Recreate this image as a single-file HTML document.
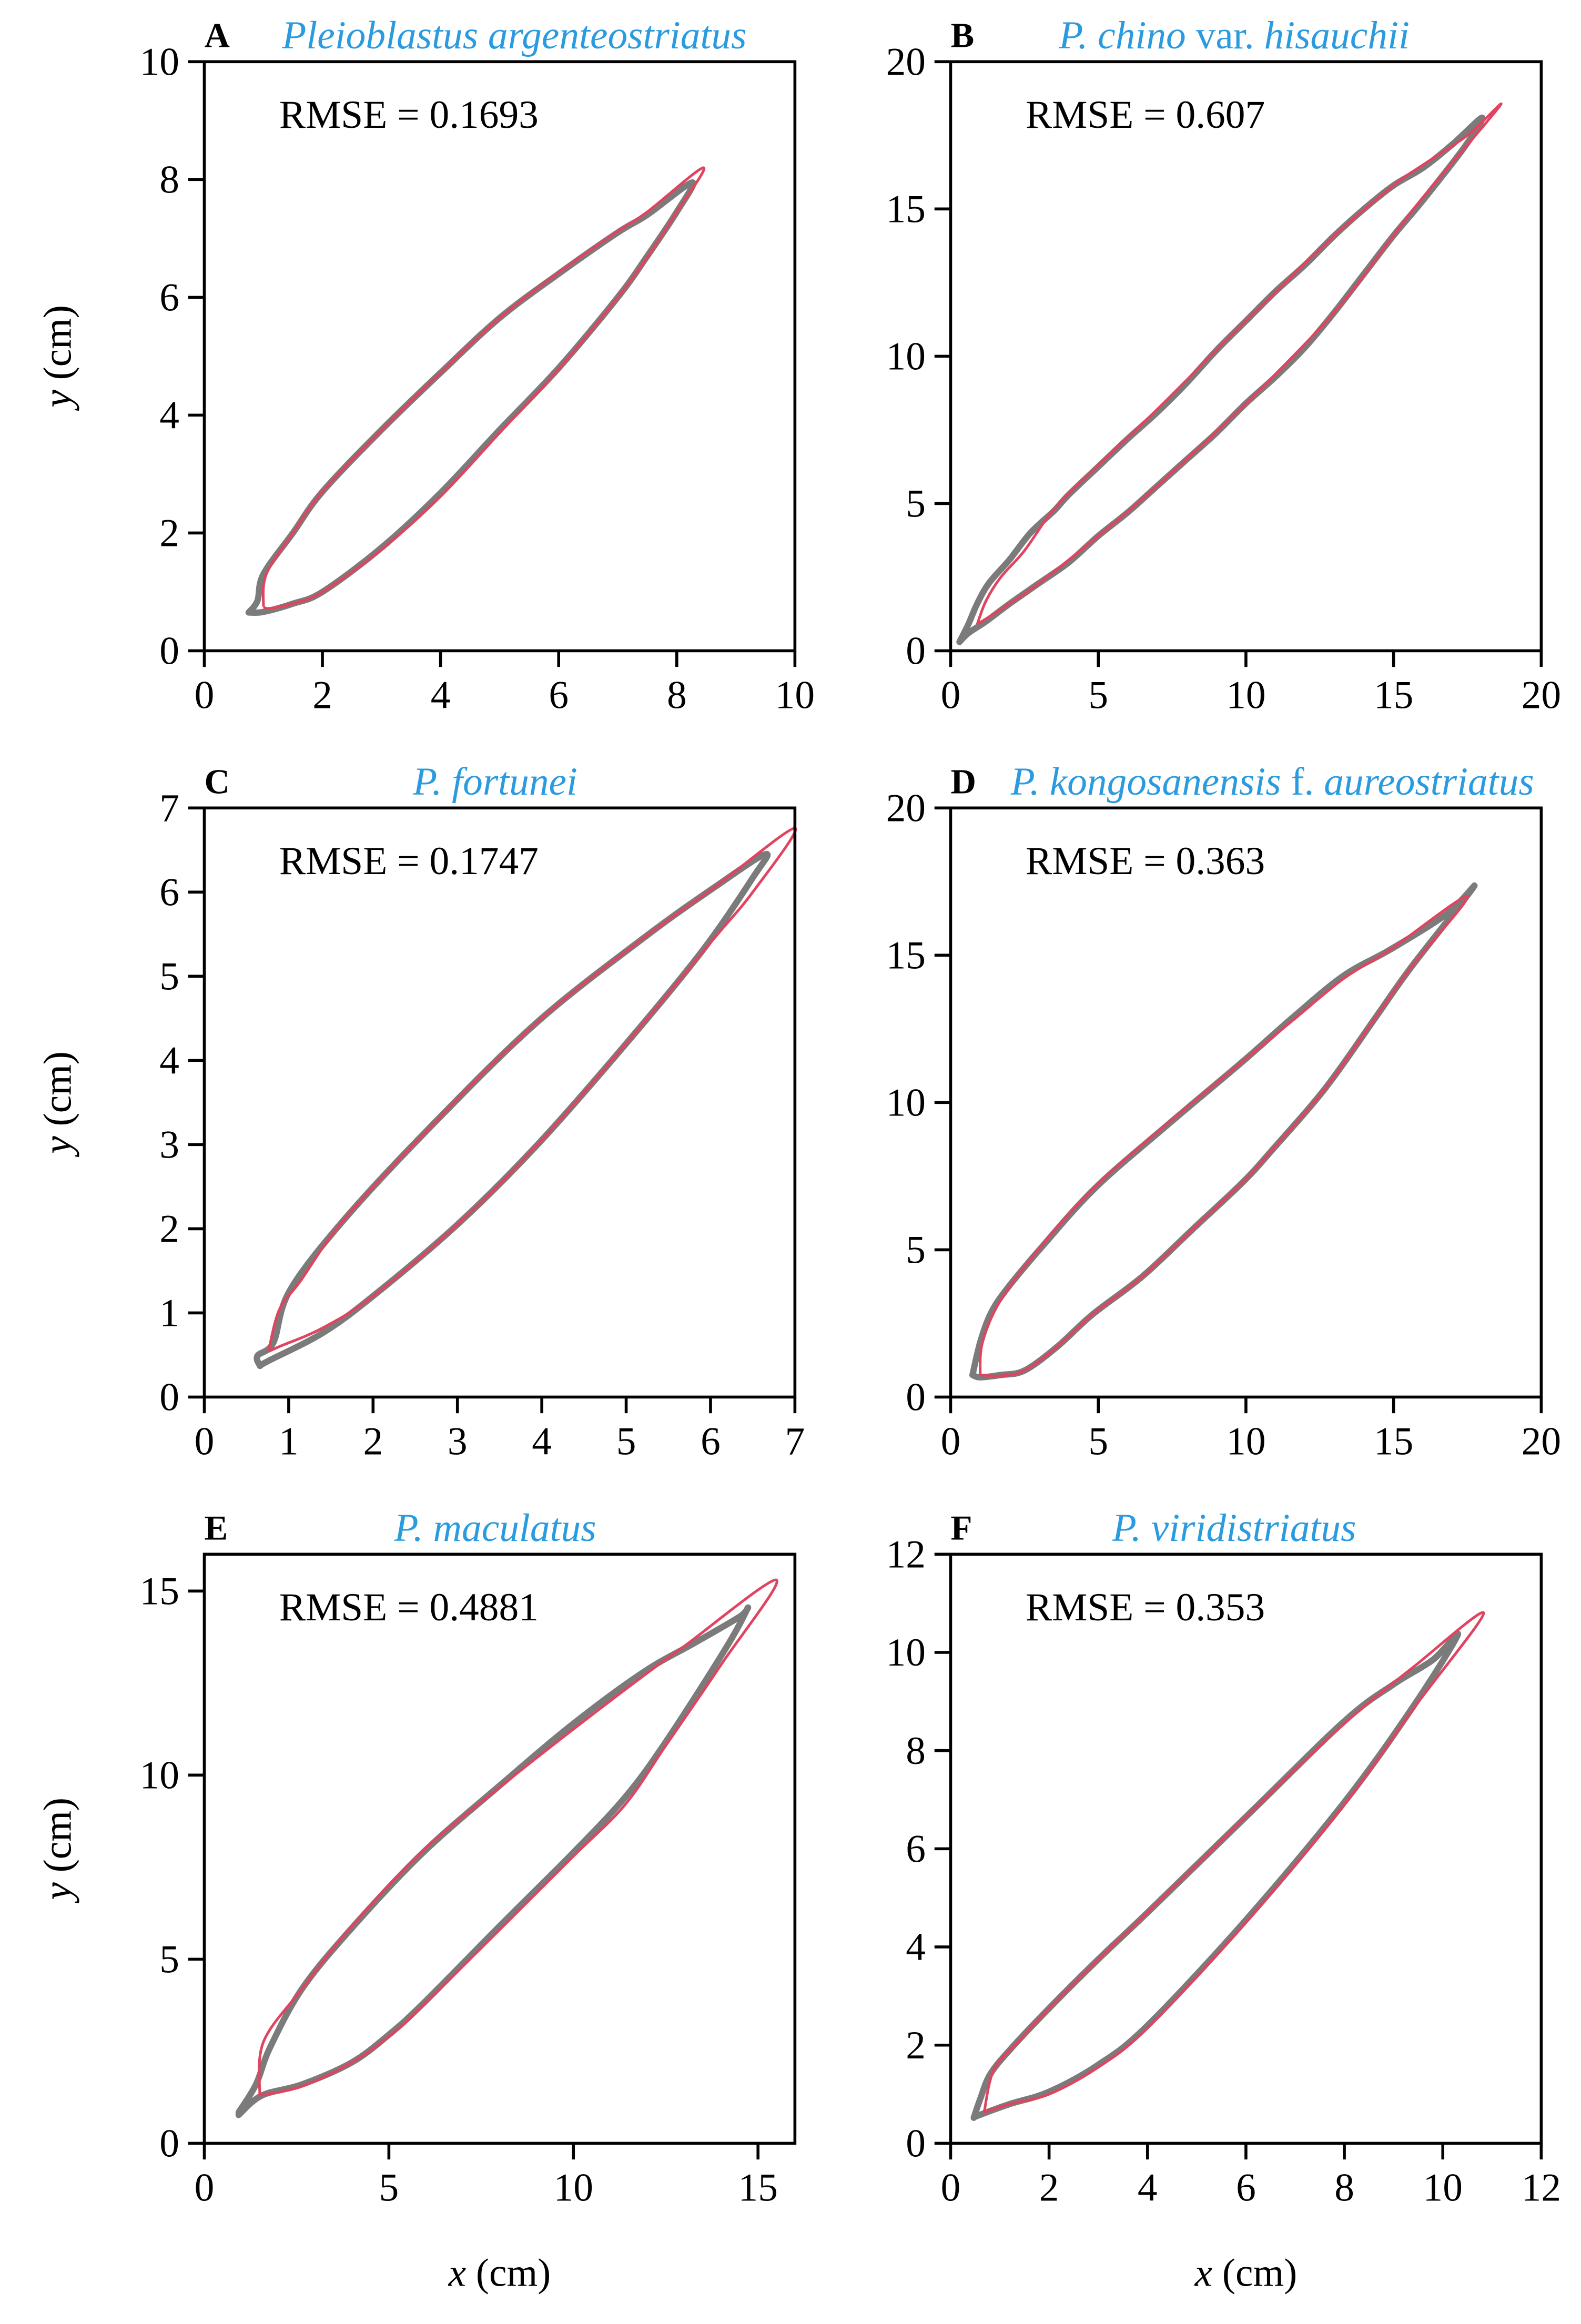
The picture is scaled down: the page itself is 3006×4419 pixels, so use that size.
<!DOCTYPE html>
<html><head><meta charset="utf-8"><style>
html,body{margin:0;padding:0;background:#fff;}
svg{display:block;}
text{font-family:"Liberation Serif","Times New Roman",serif;}
</style></head><body>
<svg id="fig" width="3006" height="4419" viewBox="0 0 1076 1582" xmlns="http://www.w3.org/2000/svg"></svg>
<script>
// ---- data (data units) ----
const panelLetters = ["A","B","C","D","E","F"];
const panelTitles = [
  [["Pleioblastus argenteostriatus",true]],
  [["P. chino",true],[" var. ",false],["hisauchii",true]],
  [["P. fortunei",true]],
  [["P. kongosanensis",true],[" f. ",false],["aureostriatus",true]],
  [["P. maculatus",true]],
  [["P. viridistriatus",true]]
];
const titleCenters = [350,840,337,866,337,840];
const rmseLabels = ["RMSE = 0.1693","RMSE = 0.607","RMSE = 0.1747","RMSE = 0.363","RMSE = 0.4881","RMSE = 0.353"];
const xMax = [10,20,7,20,16,12];
const yMax = [10,20,7,20,16,12];
const xTicks = [[0,2,4,6,8,10],[0,5,10,15,20],[0,1,2,3,4,5,6,7],[0,5,10,15,20],[0,5,10,15],[0,2,4,6,8,10,12]];
const yTicks = [[0,2,4,6,8,10],[0,5,10,15,20],[0,1,2,3,4,5,6,7],[0,5,10,15,20],[0,5,10,15],[0,2,4,6,8,10,12]];

const obsA = [[0.75,0.65],[0.9,0.85],[1.0,1.3],[1.5,2.0],[2,2.7],[3,3.75],[4,4.72],[5,5.65],[6,6.4],[7,7.1],[7.5,7.4],[8.26,7.95],[8.0,7.45],[7.5,6.7],[7,6.0],[6,4.8],[5,3.75],[4,2.68],[3,1.75],[2,1.0],[1.5,0.8],[1.0,0.66],[0.75,0.65]];
const fitA = [[1.0,0.75],[1.05,1.3],[1.5,2.0],[2,2.7],[3,3.75],[4,4.72],[5,5.65],[6,6.42],[7,7.12],[7.5,7.45],[8.45,8.2],[8.0,7.45],[7.5,6.68],[7,6.0],[6,4.78],[5,3.7],[4,2.62],[3,1.72],[2,1.0],[1.5,0.8],[1.1,0.72],[1.0,0.75]];
const obsB = [[0.3,0.3],[0.6,0.9],[0.9,1.6],[1.3,2.3],[2,3.1],[2.7,4.0],[3.5,4.75],[4,5.3],[5,6.25],[6,7.2],[7,8.1],[8,9.1],[9,10.2],[10,11.2],[11,12.2],[12,13.1],[13,14.1],[14,15.0],[15,15.8],[16,16.4],[17,17.2],[18,18.1],[17.4,17.1],[16,15.3],[15,14.1],[14,12.8],[13,11.5],[12,10.3],[11,9.3],[10,8.4],[9,7.4],[8,6.5],[7,5.6],[6,4.7],[5,3.9],[4,3.0],[3,2.3],[2,1.6],[1.2,1.0],[0.6,0.6],[0.3,0.3]];
const fitB = [[0.9,0.9],[1.2,1.7],[1.7,2.5],[2.5,3.4],[3.5,4.8],[5,6.3],[7,8.2],[10,11.2],[13,14.1],[15,15.8],[16,16.5],[17.5,17.5],[18.6,18.5],[16,15.4],[15,14.1],[13,11.5],[10,8.4],[7,5.6],[5,3.9],[3,2.3],[2,1.6],[1.3,1.15],[0.9,0.9]];
const obsC = [[0.66,0.37],[0.63,0.49],[0.82,0.65],[1.01,1.26],[1.65,2.1],[2.67,3.2],[3.94,4.45],[5.2,5.45],[6.05,6.06],[6.65,6.45],[6.5,6.17],[5.9,5.3],[5.0,4.2],[3.95,3.0],[3.0,2.05],[2.0,1.2],[1.4,0.76],[0.76,0.43],[0.66,0.37]];
const fitC = [[0.76,0.54],[0.89,1.04],[1.14,1.38],[1.65,2.1],[2.67,3.2],[3.94,4.45],[5.2,5.45],[6.05,6.06],[7.0,6.76],[6.5,6.0],[6.0,5.4],[5.0,4.2],[3.95,3.0],[3.0,2.05],[2.0,1.2],[1.4,0.82],[0.89,0.6],[0.76,0.54]];
const obsD = [[0.74,0.75],[1.0,1.86],[1.34,2.8],[1.85,3.6],[3.05,5.05],[4.9,7.1],[7.3,9.2],[9.9,11.4],[11.6,12.9],[13.3,14.3],[14.9,15.2],[16.8,16.4],[17.7,17.3],[15.6,14.6],[14.4,12.9],[12.7,10.5],[10.9,8.4],[9.9,7.3],[8.2,5.7],[6.5,4.1],[4.8,2.8],[3.6,1.7],[2.5,0.9],[1.7,0.75],[1.0,0.67],[0.74,0.75]];
const fitD = [[1.0,0.75],[1.08,1.86],[1.7,3.3],[3.05,5.1],[4.9,7.15],[7.3,9.25],[9.9,11.4],[11.6,12.8],[13.3,14.2],[14.9,15.2],[17.5,17.0],[15.6,14.6],[14.4,12.9],[12.7,10.5],[10.9,8.4],[9.9,7.3],[8.2,5.7],[6.5,4.1],[4.8,2.8],[3.6,1.7],[2.5,0.9],[1.7,0.72],[1.0,0.75]];
const obsE = [[0.93,0.84],[1.4,1.6],[1.78,2.6],[2.65,4.2],[4.0,5.85],[5.93,7.9],[8.1,9.8],[10.0,11.4],[11.9,12.8],[13.3,13.6],[14.5,14.3],[14.7,14.5],[14.1,13.4],[12.5,10.9],[11.4,9.4],[10,7.9],[8.1,6.0],[5.93,3.8],[5,2.95],[4.0,2.2],[2.65,1.6],[1.56,1.3],[0.93,0.77]];
const fitE = [[1.5,1.3],[1.6,2.75],[2.65,4.2],[4.0,5.9],[5.93,7.95],[8.1,9.75],[10.0,11.25],[11.9,12.7],[13.0,13.5],[15.5,15.3],[14.0,13.0],[12.5,10.8],[11.4,9.2],[10,7.8],[8.1,5.9],[5.93,3.75],[5,2.9],[4.0,2.2],[2.65,1.55],[1.5,1.3]];
const obsF = [[0.47,0.52],[0.6,0.9],[0.8,1.4],[1.2,1.9],[2,2.75],[3,3.75],[4,4.7],[6,6.65],[8,8.6],[9.0,9.35],[9.8,9.85],[10.3,10.35],[9.4,8.9],[8,6.95],[6,4.55],[4,2.4],[3,1.6],[2,1.05],[1.2,0.8],[0.57,0.57],[0.47,0.52]];
const fitF = [[0.68,0.63],[0.88,1.5],[1.4,2.1],[2,2.75],[3,3.75],[4,4.7],[6,6.65],[8,8.55],[9.4,9.7],[10.83,10.8],[9.4,8.85],[8,6.9],[6,4.5],[4,2.35],[3,1.55],[2,1.0],[1.2,0.8],[0.68,0.63]];
const observed = [obsA,obsB,obsC,obsD,obsE,obsF];
const fitted = [fitA,fitB,fitC,fitD,fitE,fitF];

const NS="http://www.w3.org/2000/svg";
const svg=document.getElementById('fig');
const colL=[139,647], rowT=[42,550,1058], W=402, H=401;
function mk(tag,attrs,parent){const e=document.createElementNS(NS,tag);for(const k in attrs)e.setAttribute(k,attrs[k]);(parent||svg).appendChild(e);return e;}
function smooth(pts){
  let d="M"+pts[0][0].toFixed(2)+","+pts[0][1].toFixed(2);
  for(let i=0;i<pts.length-1;i++){
    const p0=pts[Math.max(0,i-1)],p1=pts[i],p2=pts[i+1],p3=pts[Math.min(pts.length-1,i+2)];
    const c1=[p1[0]+(p2[0]-p0[0])/6,p1[1]+(p2[1]-p0[1])/6];
    const c2=[p2[0]-(p3[0]-p1[0])/6,p2[1]-(p3[1]-p1[1])/6];
    d+="C"+c1[0].toFixed(2)+","+c1[1].toFixed(2)+" "+c2[0].toFixed(2)+","+c2[1].toFixed(2)+" "+p2[0].toFixed(2)+","+p2[1].toFixed(2);
  }
  return d;
}
for(let p=0;p<6;p++){
  const L=colL[p%2], T=rowT[Math.floor(p/2)];
  const sx=v=>L+v/xMax[p]*W, sy=v=>T+H-v/yMax[p]*H;
  const g=mk('g',{});
  
  
  xTicks[p].forEach(v=>{
    const t=mk('line',{x1:sx(v),x2:sx(v),y1:T+H,y2:T+H+11,stroke:'#000','stroke-width':2},g);
    
    
    const lb=mk('text',{x:sx(v),y:T+H+39,'text-anchor':'middle','font-size':27},g);
    lb.textContent=v;
    
    
  });
  yTicks[p].forEach(v=>{
    const t=mk('line',{x1:L-11,x2:L,y1:sy(v),y2:sy(v),stroke:'#000','stroke-width':2},g);
    
    
    const lb=mk('text',{x:L-17,y:sy(v)+9,'text-anchor':'end','font-size':27},g);
    lb.textContent=v;
    
    
  });
  const op=mk('path',{d:smooth(observed[p].map(q=>[sx(q[0]),sy(q[1])])),fill:'none',stroke:'#7b7b7b','stroke-width':4.3,'stroke-linejoin':'round','stroke-linecap':'round'},g);
  
  
  const fp=mk('path',{d:smooth(fitted[p].map(q=>[sx(q[0]),sy(q[1])])),fill:'none',stroke:'#e0445f','stroke-width':1.8,'stroke-linejoin':'round'},g);
  
  
  const fr=mk('rect',{x:L,y:T,width:W,height:H,fill:'none',stroke:'#000','stroke-width':2},g);
  
  
  const rm=mk('text',{x:L+51,y:T+45,'font-size':27},g);
  rm.textContent=rmseLabels[p];
  
  
  const le=mk('text',{x:L,y:T-10,'font-size':24,'font-weight':'bold'},g);
  le.textContent=panelLetters[p];
  
  
  const ti=mk('text',{x:titleCenters[p],y:T-9,'text-anchor':'middle','font-size':27,fill:'#2b9be0'},g);
  
  
  panelTitles[p].forEach(s=>{const ts=mk('tspan',{'font-style':s[1]?'italic':'normal'},ti);ts.textContent=s[0];});
  const cy=T+H/2;
  const yl=mk('text',{x:0,y:0,'text-anchor':'middle','font-size':27,transform:'translate(48,'+cy+') rotate(-90)'},g);
  
  
  const y1=mk('tspan',{'font-style':'italic'},yl); y1.textContent='y';
  const y2=mk('tspan',{},yl); y2.textContent=' (cm)';
}
[0,1].forEach(c=>{
  const xl=mk('text',{x:colL[c]+W/2,y:1556,'text-anchor':'middle','font-size':27});
  
  
  const a=mk('tspan',{'font-style':'italic'},xl); a.textContent='x';
  const b=mk('tspan',{},xl); b.textContent=' (cm)';
});
</script>
</body></html>
